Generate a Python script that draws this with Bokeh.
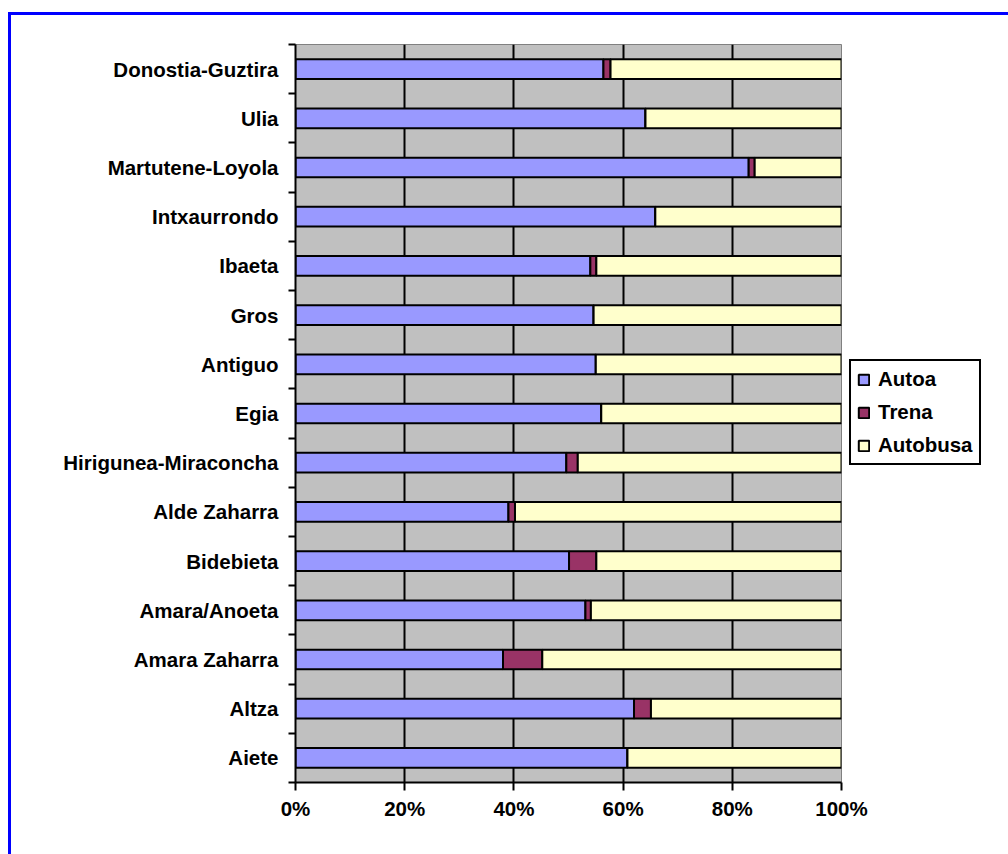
from bokeh.plotting import figure
from bokeh.models import (ColumnDataSource, Range1d, FixedTicker, PrintfTickFormatter,
                          Legend, LegendItem)
from bokeh.layouts import column
from bokeh.embed import file_html
from bokeh.resources import INLINE

categories = ["Aiete", "Altza", "Amara Zaharra", "Amara/Anoeta", "Bidebieta",
              "Alde Zaharra", "Hirigunea-Miraconcha", "Egia", "Antiguo", "Gros",
              "Ibaeta", "Intxaurrondo", "Martutene-Loyola", "Ulia", "Donostia-Guztira"]
autoa = [60.8, 62.0, 38.0, 53.1, 50.1, 39.0, 49.6, 56.0, 55.0, 54.6, 54.0, 65.9, 83.0, 64.1, 56.4]
trena = [0.0, 3.1, 7.2, 1.0, 5.0, 1.2, 2.1, 0.0, 0.0, 0.0, 1.1, 0.0, 1.1, 0.0, 1.3]
autobusa = [39.2, 34.9, 54.8, 45.9, 44.9, 59.8, 48.3, 44.0, 45.0, 45.4, 44.9, 34.1, 15.9, 35.9, 42.3]
x_ticks = [0, 20, 40, 60, 80, 100]
series = ["Autoa", "Trena", "Autobusa"]
colors = ["#9999FF", "#993366", "#FFFFCC"]

n = len(categories)
pos = [i + 0.5 for i in range(n)]
source = ColumnDataSource(dict(y=pos, Autoa=autoa, Trena=trena, Autobusa=autobusa))

FONT = "Liberation Sans"
FS = "20.5px"

p = figure(frame_width=546, frame_height=738, output_backend="svg", toolbar_location=None,
           x_range=Range1d(0, 100), y_range=Range1d(0, n),
           min_border_left=284, min_border_right=153, min_border_top=29,
           min_border_bottom=72)
p.background_fill_color = "#C0C0C0"
p.border_fill_color = "white"
p.outline_line_color = "#808080"
p.outline_line_width = 1

rs = p.hbar_stack(series, y="y", height=0.4, source=source,
                  fill_color=colors, line_color="black", line_width=2)

# x axis
p.xaxis.ticker = FixedTicker(ticks=x_ticks)
p.xaxis.formatter = PrintfTickFormatter(format="%d%%")
p.xaxis.axis_line_color = "black"
p.xaxis.axis_line_width = 2
p.xaxis.major_tick_line_color = "black"
p.xaxis.major_tick_line_width = 2
p.xaxis.major_tick_out = 8
p.xaxis.major_tick_in = 0
p.xaxis.minor_tick_line_color = None
p.xaxis.major_label_text_font = FONT
p.xaxis.major_label_text_font_style = "bold"
p.xaxis.major_label_text_font_size = FS
p.xaxis.major_label_text_color = "black"
p.xaxis.major_label_standoff = 6

# y axis: labels at centres, ticks at boundaries
p.yaxis.ticker = FixedTicker(ticks=pos, minor_ticks=list(range(n + 1)))
p.yaxis.major_label_overrides = {pv: c for pv, c in zip(pos, categories)}
p.yaxis.axis_line_color = "black"
p.yaxis.axis_line_width = 2
p.yaxis.major_tick_line_color = None
p.yaxis.major_tick_out = 0
p.yaxis.major_tick_in = 0
p.yaxis.minor_tick_line_color = "black"
p.yaxis.minor_tick_line_width = 2
p.yaxis.minor_tick_out = 7
p.yaxis.minor_tick_in = 0
p.yaxis.major_label_text_font = FONT
p.yaxis.major_label_text_font_style = "bold"
p.yaxis.major_label_text_font_size = FS
p.yaxis.major_label_text_color = "black"
p.yaxis.major_label_standoff = 10

p.xgrid.ticker = FixedTicker(ticks=x_ticks[1:-1])
p.xgrid.grid_line_color = "black"
p.xgrid.grid_line_width = 2
p.ygrid.visible = False

legend = Legend(items=[LegendItem(label=s, renderers=[r]) for s, r in zip(series, rs)],
                location=(8, 317))
legend.label_text_font = FONT
legend.label_text_font_style = "bold"
legend.label_text_font_size = FS
legend.label_text_line_height = 1.0
legend.label_text_color = "black"
legend.glyph_width = 13
legend.glyph_height = 13
legend.label_height = 24
legend.label_standoff = 8
legend.spacing = 9
legend.padding = 6
legend.margin = 0
legend.border_line_color = "black"
legend.border_line_width = 2
legend.border_line_alpha = 1
legend.background_fill_color = "white"
legend.background_fill_alpha = 1
p.add_layout(legend, "right")

layout = column(p, styles={"margin-top": "12px", "margin-left": "8px",
                           "border-top": "3px solid #0000FF",
                           "border-left": "3px solid #0000FF",
                           "border-right": "3px solid #0000FF"})

open("out.html", "w").write(file_html(layout, INLINE))
